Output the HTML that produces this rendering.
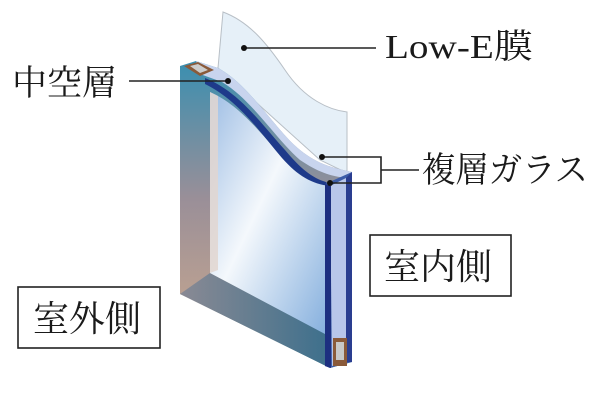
<!DOCTYPE html>
<html><head><meta charset="utf-8"><style>
html,body{margin:0;padding:0;background:#fff;}
.t{font-family:"Liberation Serif","Noto Serif CJK JP","Noto Serif CJK SC",serif;fill:#1a1a1a;}
</style></head><body>
<svg width="600" height="400" viewBox="0 0 600 400" xmlns="http://www.w3.org/2000/svg">
<defs>
<linearGradient id="fr" x1="0" y1="0" x2="0" y2="1">
<stop offset="0" stop-color="#3a8fb0"/><stop offset="0.45" stop-color="#9a8f98"/><stop offset="0.75" stop-color="#b89f92"/><stop offset="1" stop-color="#7fb5b8"/></linearGradient>
<linearGradient id="gl" x1="0" y1="0" x2="1" y2="1">
<stop offset="0" stop-color="#9dbde4"/><stop offset="0.45" stop-color="#f4f8fc"/><stop offset="1" stop-color="#86b0de"/></linearGradient>
<linearGradient id="bt" x1="0" y1="0" x2="1" y2="0">
<stop offset="0" stop-color="#8a8a94"/><stop offset="1" stop-color="#3c6f8c"/></linearGradient>
</defs>
<path d="M223,12 C250,22 268,45 285,70 C305,100 330,110 347,112 L347,173 L320,160 L218,68 Z" fill="#e6f0f8" stroke="#b8bfc6" stroke-width="1"/>
<path d="M180,66 L196,61 L218,68 C250,85 275,130 300,150 C320,166 335,168 352,172 L352,362 L330,368 L180,294 Z" fill="url(#fr)"/>
<path d="M180,294 L210,273 L326,334 L330,368 Z" fill="url(#bt)"/>
<path d="M210,92 C240,105 262,135 285,160 C300,176 312,182 325,184 L325,334 L210,273 Z" fill="url(#gl)"/>
<path d="M210,92 L218,96 L218,270 L210,273 Z" fill="#e2d6d0" opacity="0.85"/>
<path d="M196,61 L218,68 C250,85 275,130 300,150 C320,166 335,168 352,172 L346,178 C330,176 318,172 300,160 C275,138 252,100 222,82 L200,74 Z" fill="#c8d4ee"/>
<path d="M205,78 C240,92 262,125 285,150 C300,168 312,178 326,182 L330,186 C312,184 298,176 282,158 C260,132 238,100 205,84 Z" fill="#1e3a8a"/>
<path d="M325,184 L352,172 L352,362 L330,368 L325,366 Z" fill="#3c5ca8"/>
<path d="M330,186 L346,178 L346,362 L332,366 Z" fill="#b8c6ea"/>
<path d="M325,184 L331,186 L331,368 L325,366 Z" fill="#1d2f80"/>
<path d="M346,178 L352,172 L352,362 L346,362 Z" fill="#2a3d90"/>
<rect x="333" y="338" width="14" height="28" fill="#8a5a3a"/>
<rect x="336" y="342" width="8" height="18" fill="#c8c8c8"/>
<path d="M184,66 L198,62 L214,70 L200,76 Z" fill="#8a5a3a"/>
<path d="M190,66 L198,64 L208,70 L200,73 Z" fill="#ccc"/>
<g stroke="#222" stroke-width="1.6" fill="none">
<line x1="129" y1="81" x2="228" y2="81"/>
<line x1="244" y1="48" x2="376" y2="48"/>
<polyline points="322,157 381,157 381,183 330,183"/>
<line x1="381" y1="170" x2="419" y2="170"/>
</g>
<g fill="#111"><circle cx="228" cy="81" r="3"/><circle cx="244" cy="48" r="3"/><circle cx="322" cy="157" r="3"/><circle cx="330" cy="183" r="3"/></g>
<text class="t" x="12" y="95" font-size="35">中空層</text>
<text class="t" x="385" y="58" font-size="34" textLength="148" lengthAdjust="spacingAndGlyphs">Low-E膜</text>
<text class="t" x="422" y="182" font-size="35" textLength="166" lengthAdjust="spacingAndGlyphs">複層ガラス</text>
<rect x="370" y="235" width="141" height="61" fill="#fff" stroke="#222" stroke-width="1.6"/>
<text class="t" x="384" y="279" font-size="36">室内側</text>
<rect x="18" y="287" width="142" height="61" fill="#fff" stroke="#222" stroke-width="1.6"/>
<text class="t" x="33" y="331" font-size="36">室外側</text>
</svg>
</body></html>
